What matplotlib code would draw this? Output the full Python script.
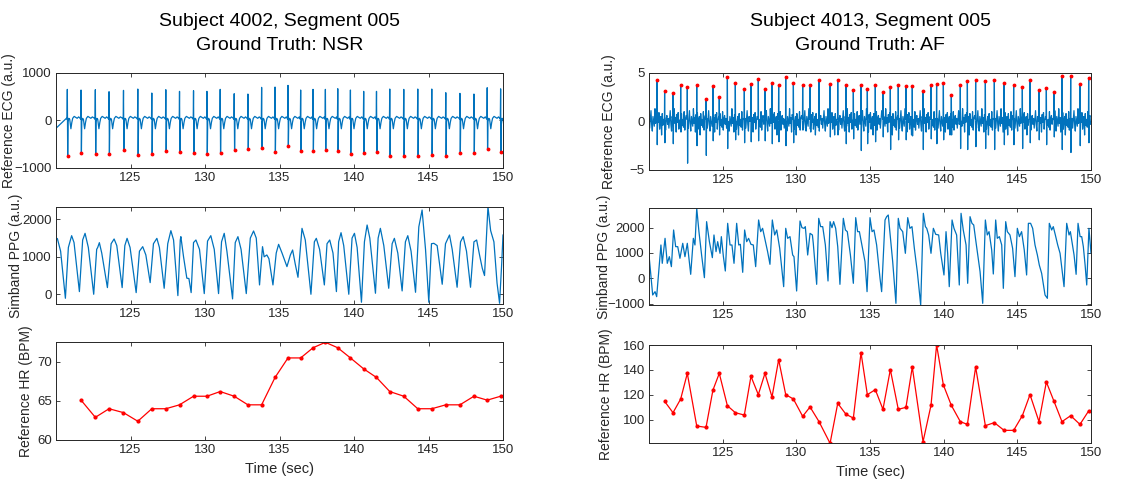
import numpy as np
import matplotlib
matplotlib.use("Agg")
import matplotlib.pyplot as plt

plt.rcParams['font.family'] = ['Liberation Sans', 'DejaVu Sans']

BLUE = '#0072BD'
RED = '#FF0000'
INK = '#262626'

# ---- subject 4002 (NSR) ----
nsr_beats = [120.76, 121.68, 122.64, 123.56, 124.53, 125.49, 126.43, 127.37, 128.29,
             129.23, 130.13, 131.02, 131.96, 132.88, 133.80, 134.70, 135.57, 136.42,
             137.25, 138.08, 138.91, 139.76, 140.65, 141.51, 142.40, 143.34, 144.28,
             145.22, 146.16, 147.11, 148.05, 148.94, 149.84]
nsr_r_amp = [649, 635, 642, 600, 628, 656, 572, 642, 607, 621, 607, 649, 558, 551, 691,
             698, 733, 635, 649, 649, 663, 635, 607, 607, 656, 649, 656, 656, 579, 565,
             551, 684, 660]
nsr_s_amp = [-754, -691, -719, -719, -635, -733, -712, -656, -670, -691, -705, -691,
             -628, -614, -579, -663, -544, -642, -642, -628, -642, -705, -698, -663,
             -754, -747, -761, -733, -747, -691, -684, -607, -670]
nsr_hr = [65.1, 62.9, 64.0, 63.5, 62.4, 64.0, 64.0, 64.5, 65.6, 65.6, 66.2, 65.6, 64.5,
          64.5, 68.0, 70.5, 70.5, 71.8, 72.5, 71.8, 70.5, 69.1, 68.0, 66.2, 65.6, 64.0,
          64.0, 64.5, 64.5, 65.6, 65.1, 65.6]
# beat shape around each R wave: (offset s, level a.u.), R/S filled per beat
nsr_shape = [(-0.06, 40), (-0.02, 20), (0.0, 'R'), (0.025, 'S'), (0.05, -30), (0.10, 40),
             (0.16, 20), (0.24, -180), (0.30, -50), (0.36, 40), (0.46, 80), (0.56, 60),
             (0.66, 40), (0.76, 70)]

nsr_ppg_t = [120.00, 120.09, 120.31, 120.63, 120.83, 121.05, 121.21, 121.57, 121.79, 121.95,
             122.17, 122.53, 122.73, 122.80, 122.91, 123.07, 123.45, 123.70, 123.90, 124.08,
             124.44, 124.62, 124.77, 124.97, 125.38, 125.60, 125.82, 126.03, 126.32, 126.54,
             126.77, 126.94, 127.26, 127.50, 127.71, 127.89, 128.18, 128.34, 128.38, 128.56,
             128.78, 128.92, 129.07, 129.23, 129.39, 129.63, 129.95, 130.17, 130.39, 130.62,
             130.91, 131.11, 131.29, 131.47, 131.85, 132.03, 132.21, 132.42, 132.77, 133.04,
             133.26, 133.44, 133.66, 133.86, 133.97, 134.15, 134.29, 134.56, 134.78, 134.94,
             135.17, 135.50, 135.73, 135.88, 136.06, 136.24, 136.51, 136.73, 137.11, 137.34,
             137.47, 137.69, 138.01, 138.19, 138.37, 138.59, 138.82, 138.97, 139.13, 139.31,
             139.65, 139.87, 140.03, 140.21, 140.50, 140.70, 140.88, 141.06, 141.44, 141.62,
             141.77, 142.00, 142.33, 142.56, 142.71, 142.94, 143.23, 143.45, 143.61, 143.83,
             144.13, 144.35, 144.57, 144.80, 145.02, 145.20, 145.36, 145.58, 145.92, 146.14,
             146.41, 146.59, 146.92, 147.15, 147.33, 147.55, 147.82, 148.05, 148.23, 148.45,
             148.61, 148.76, 148.99, 149.17, 149.39, 149.60, 149.77, 149.91, 150.00]
nsr_ppg_v = [1450, 1490, 1150, -107, 1250, 1564, 1380, 71, 1450, 1627,
             1250, 0, 1200, 1250, 1378, 1100, 178, 1350, 1476, 1300,
             178, 1300, 1493, 1250, 44, 1150, 1271, 1050, 311, 1350,
             1493, 1250, 160, 1350, 1698, 1450, -36, 1450, 1538, 1000,
             430, 420, 44, 1380, 1449, 1200, 18, 1420, 1564, 1200,
             18, 1400, 1627, 1150, -124, 1380, 1538, 1200, 18, 1500,
             1689, 1500, 249, 1271, 1000, 1049, 950, 249, 1100, 1333,
             1100, 738, 1050, 1182, 800, 453, 1760, 1450, 0, 1400,
             1493, 1200, 249, 1350, 1449, 1100, 71, 1400, 1644, 1300,
             0, 1500, 1627, 1250, -213, 1400, 1849, 1500, 27, 1500,
             1760, 1300, 160, 1350, 1493, 1100, 89, 1400, 1564, 1150,
             53, 1800, 2249, 1200, -213, 1350, 1360, 1300, 267, 1350,
             1582, 1200, 187, 1400, 1538, 1150, 187, 1400, 1449, 1000,
             693, 500, 2338, 1700, 1400, 300, -240, 800, 1582]

# ---- subject 4013 (AF) ----
af_beats = [120.54, 121.06, 121.63, 122.15, 122.60, 123.24, 123.87, 124.34, 124.77, 125.32,
            125.86, 126.47, 126.92, 127.42, 127.87, 128.35, 128.80, 129.28, 129.80, 130.43,
            130.93, 131.54, 132.29, 132.81, 133.37, 133.87, 134.39, 134.82, 135.36, 135.88,
            136.38, 136.92, 137.44, 137.87, 138.60, 139.14, 139.52, 139.98, 140.52, 141.13,
            141.61, 142.17, 142.83, 143.44, 144.10, 144.75, 145.34, 145.86, 146.47, 146.97,
            147.49, 148.03, 148.62, 149.25, 149.84]
af_r_amp = [4.2, 3.1, 2.9, 3.7, 3.5, 3.7, 2.3, 3.6, 2.5, 4.6,
            3.9, 3.3, 3.8, 4.4, 3.3, 3.9, 3.7, 4.6, 3.9, 3.7,
            3.7, 4.2, 3.8, 4.3, 3.7, 3.2, 3.7, 3.3, 3.7, 3.0,
            3.5, 3.7, 3.6, 3.6, 3.1, 3.7, 3.8, 3.9, 2.7, 3.7,
            4.1, 4.2, 4.1, 4.3, 3.9, 3.7, 3.5, 4.2, 3.2, 3.4,
            3.0, 4.7, 4.7, 3.8, 4.5]
af_s_amp = [-2.4, -2.2, -2.3, -1.1, -4.3, -2.5, -3.5, -2.0, -1.4, -2.8,
            -1.9, -2.2, -2.1, -2.0, -2.0, -2.3, -2.1, -2.5, -2.2, -0.9,
            -0.8, -1.0, -1.6, -1.4, -2.3, -1.8, -3.0, -2.3, -2.1, -1.6,
            -2.9, -1.9, -1.9, -1.5, -2.9, -1.8, -2.3, -1.9, -1.4, -2.8,
            -2.9, -2.6, -2.8, -2.9, -2.4, -2.4, -2.8, -2.2, -1.9, -2.4,
            -1.6, -2.9, -3.2, -2.5, -2.2]
af_hr = [114.7, 105.6, 116.6, 137.2, 94.9, 93.8, 123.8, 137.2, 111.2, 105.6,
         103.7, 134.8, 120.1, 137.2, 118.2, 148.2, 120.1, 116.6, 102.7, 110.2,
         98.4, 81.0, 113.1, 104.3, 101.3, 153.8, 120.1, 124.1, 108.3, 140.2,
         108.3, 109.9, 142.3, 82.3, 111.5, 160.0, 127.9, 111.5, 98.4, 96.2,
         142.3, 95.2, 97.6, 91.4, 91.4, 103.2, 120.1, 98.4, 130.3, 114.7,
         98.4, 103.2, 96.2, 107.0]
# fibrillatory baseline wiggle, sampled every 45 ms
af_fwave = [0.3, -0.7, 0.2, 1.1, -0.3, -1.0, 0.5, 0.0, -0.5, 1.3, -0.2, 0.4,
            -1.1, 0.7, -0.1, 0.9, -0.8, 0.1, 0.5, -1.4, 0.8, -0.4, 0.2, -0.6,
            1.0, -0.9, 0.3, 0.6, -0.3]

af_ppg_t = [120.00, 120.25, 120.41, 120.52, 120.81, 120.90, 121.09, 121.24, 121.38, 121.52,
            121.67, 121.81, 121.95, 122.10, 122.29, 122.44, 122.60, 122.83, 123.01, 123.12,
            123.24, 123.39, 123.57, 123.76, 123.91, 124.10, 124.30, 124.41, 124.55, 124.66,
            124.82, 124.91, 125.05, 125.18, 125.34, 125.50, 125.63, 125.77, 125.95, 126.09,
            126.20, 126.36, 126.49, 126.63, 126.76, 126.92, 127.08, 127.24, 127.44, 127.58,
            127.71, 127.83, 128.05, 128.21, 128.37, 128.53, 128.67, 128.87, 129.14, 129.28,
            129.41, 129.57, 129.75, 129.84, 130.02, 130.25, 130.38, 130.52, 130.61, 130.77,
            130.93, 131.09, 131.15, 131.38, 131.52, 131.65, 131.79, 131.97, 132.15, 132.29,
            132.42, 132.53, 132.67, 132.81, 132.96, 133.19, 133.33, 133.46, 133.67, 133.87,
            134.03, 134.16, 134.28, 134.43, 134.66, 134.80, 135.00, 135.14, 135.27, 135.45,
            135.68, 135.79, 136.02, 136.13, 136.24, 136.38, 136.54, 136.76, 136.92, 137.04,
            137.22, 137.40, 137.56, 137.71, 137.85, 138.01, 138.21, 138.44, 138.62, 138.76,
            138.85, 138.98, 139.14, 139.30, 139.46, 139.66, 139.80, 140.02, 140.16, 140.27,
            140.38, 140.57, 140.70, 140.88, 141.06, 141.18, 141.33, 141.52, 141.63, 141.79,
            141.92, 142.04, 142.19, 142.47, 142.65, 142.83, 142.96, 143.08, 143.26, 143.37,
            143.53, 143.64, 143.78, 143.94, 144.05, 144.21, 144.32, 144.50, 144.68, 144.84,
            145.00, 145.14, 145.29, 145.47, 145.63, 145.75, 145.90, 146.04, 146.20, 146.36,
            146.49, 146.65, 146.88, 147.04, 147.17, 147.33, 147.44, 147.58, 147.74, 147.90,
            148.17, 148.35, 148.51, 148.60, 148.76, 148.85, 148.99, 149.12, 149.26, 149.37,
            149.48, 149.60, 149.71, 149.86, 150.00]
af_ppg_v = [921, -658, -526, -724, 1316, 592, 1579, 592, 855, 461,
            1908, 1250, 1250, 790, 1382, 855, 1382, 158, 1579, 1316,
            2764, 1842, 921, 26, 2237, 1447, 816, 1711, 1053, 1447,
            987, 1645, 855, 289, 2171, 1316, 1316, 592, 2171, 1316,
            1342, 237, 1908, 1447, 1579, 1342, 1316, 461, 2303, 1842,
            1974, 1645, 1053, 553, 2303, 1711, 1908, 1184, -329, 1974,
            1579, 1645, 921, 855, -500, 2263, 2000, 1974, 2040, 921,
            1776, 1711, 1382, -237, 2368, 2040, 2040, 1316, -105, 2237,
            2000, 2237, 1974, 1250, -237, 2368, 1908, 1842, 921, -197,
            2395, 1842, 1842, 1382, 658, -526, 2395, 1842, 1908, 1316,
            0, -526, 2303, 2434, 2500, 1645, 658, -987, 2368, 1974,
            1842, 987, 2395, 1974, 2040, 1184, 263, -1053, 2566, 2040,
            1974, 1711, 987, 1974, 1737, 1711, 987, 132, 1842, 987,
            -329, 2303, 1974, 1711, -263, 2566, 1908, 1316, -197, 2434,
            2171, 2105, 1447, 263, -987, 2303, 1711, 1842, 1118, 171,
            2303, 1579, 1645, 1316, -395, 2237, 1842, 1711, 1184, 66,
            1974, 1645, 1842, 1118, 132, 2171, 2171, 1974, 1316, 921,
            526, 197, -658, -789, 2171, 1908, 2040, 1711, 1316, 987,
            -329, 2171, 1711, 1842, 1250, 921, 158, 2171, 1645, 1645,
            1250, 526, -263, 1974, 1000]

XTICKS = [125, 130, 135, 140, 145, 150]


def nsr_trace():
    t, v = [120.0], [-170]
    for bt, r, s in zip(nsr_beats, nsr_r_amp, nsr_s_amp):
        for off, lvl in nsr_shape:
            t.append(bt + off)
            v.append(r if lvl == 'R' else s if lvl == 'S' else lvl)
    return np.array(t), np.array(v)


def af_trace():
    grid = np.arange(120.0, 150.0, 0.045)
    beats = np.array(af_beats)
    pts = []
    for i, g in enumerate(grid):
        if np.min(np.abs(g - beats)) > 0.04:
            pts.append((g, af_fwave[i % len(af_fwave)]))
    for bt, r, s in zip(af_beats, af_r_amp, af_s_amp):
        pts += [(bt - 0.012, 0.2), (bt, r), (bt + 0.02, s), (bt + 0.035, 0.0)]
    pts.sort()
    return np.array([p[0] for p in pts]), np.array([p[1] for p in pts])


def style(ax, yticks, ylabel, label_x):
    ax.set_xlim(120, 150)
    ax.set_xticks(XTICKS)
    ax.set_yticks(yticks)
    ax.tick_params(direction='in', top=True, right=True, length=3, width=0.6,
                   colors=INK, labelsize=9.5, pad=3)
    for sp in ax.spines.values():
        sp.set_color(INK)
        sp.set_linewidth(0.7)
    ax.set_ylabel(ylabel, fontsize=10, color=INK)
    ax.yaxis.set_label_coords(label_x, 0.5)


W, H = 1126, 479
fig = plt.figure(figsize=(W / 100, H / 100), dpi=100)


def px_axes(x0, y0, x1, y1):
    return fig.add_axes([x0 / W, 1 - y1 / H, (x1 - x0) / W, (y1 - y0) / H])


# left column: NSR
ax = px_axes(56, 72.7, 503, 167.7)
t, v = nsr_trace()
ax.plot(t, v, color=BLUE, lw=0.9)
ax.plot(np.array(nsr_beats) + 0.025, nsr_s_amp, '.', color=RED, ms=3.5)
ax.set_ylim(-1000, 1000)
style(ax, [-1000, 0, 1000], 'Reference ECG (a.u.)', -0.089)
ax.set_title('Subject 4002, Segment 005\nGround Truth: NSR', fontsize=14,
             color='black', pad=16, linespacing=1.6)

ax = px_axes(56, 206.7, 503, 304)
ax.plot(nsr_ppg_t, nsr_ppg_v, color=BLUE, lw=0.9)
ax.set_ylim(min(nsr_ppg_v) - 20, max(nsr_ppg_v))
style(ax, [0, 1000, 2000], 'Simband PPG (a.u.)', -0.074)

ax = px_axes(56, 342.3, 503, 440)
ax.plot(nsr_beats[1:], nsr_hr, '.-', color=RED, lw=0.9, ms=4)
ax.set_ylim(60, max(nsr_hr))
style(ax, [60, 65, 70], 'Reference HR (BPM)', -0.051)
ax.set_xlabel('Time (sec)', fontsize=10.5, color=INK)

# right column: AF
ax = px_axes(649, 72.7, 1091, 170)
t, v = af_trace()
ax.plot(t, v, color=BLUE, lw=0.9)
ax.plot(af_beats, af_r_amp, '.', color=RED, ms=3.5)
ax.set_ylim(-5, 5)
style(ax, [-5, 0, 5], 'Reference ECG (a.u.)', -0.074)
ax.set_title('Subject 4013, Segment 005\nGround Truth: AF', fontsize=14,
             color='black', pad=16, linespacing=1.6)

ax = px_axes(649, 208.3, 1091, 305)
ax.plot(af_ppg_t, af_ppg_v, color=BLUE, lw=0.9)
ax.set_ylim(min(af_ppg_v), max(af_ppg_v))
style(ax, [-1000, 0, 1000, 2000], 'Simband PPG (a.u.)', -0.086)

ax = px_axes(649, 345, 1091, 443.3)
ax.plot(af_beats[1:], af_hr, '.-', color=RED, lw=0.9, ms=4)
ax.set_ylim(min(af_hr), max(af_hr))
style(ax, [100, 120, 140, 160], 'Reference HR (BPM)', -0.082)
ax.set_xlabel('Time (sec)', fontsize=10.5, color=INK)

fig.savefig('out.png', dpi=100, facecolor='white')
